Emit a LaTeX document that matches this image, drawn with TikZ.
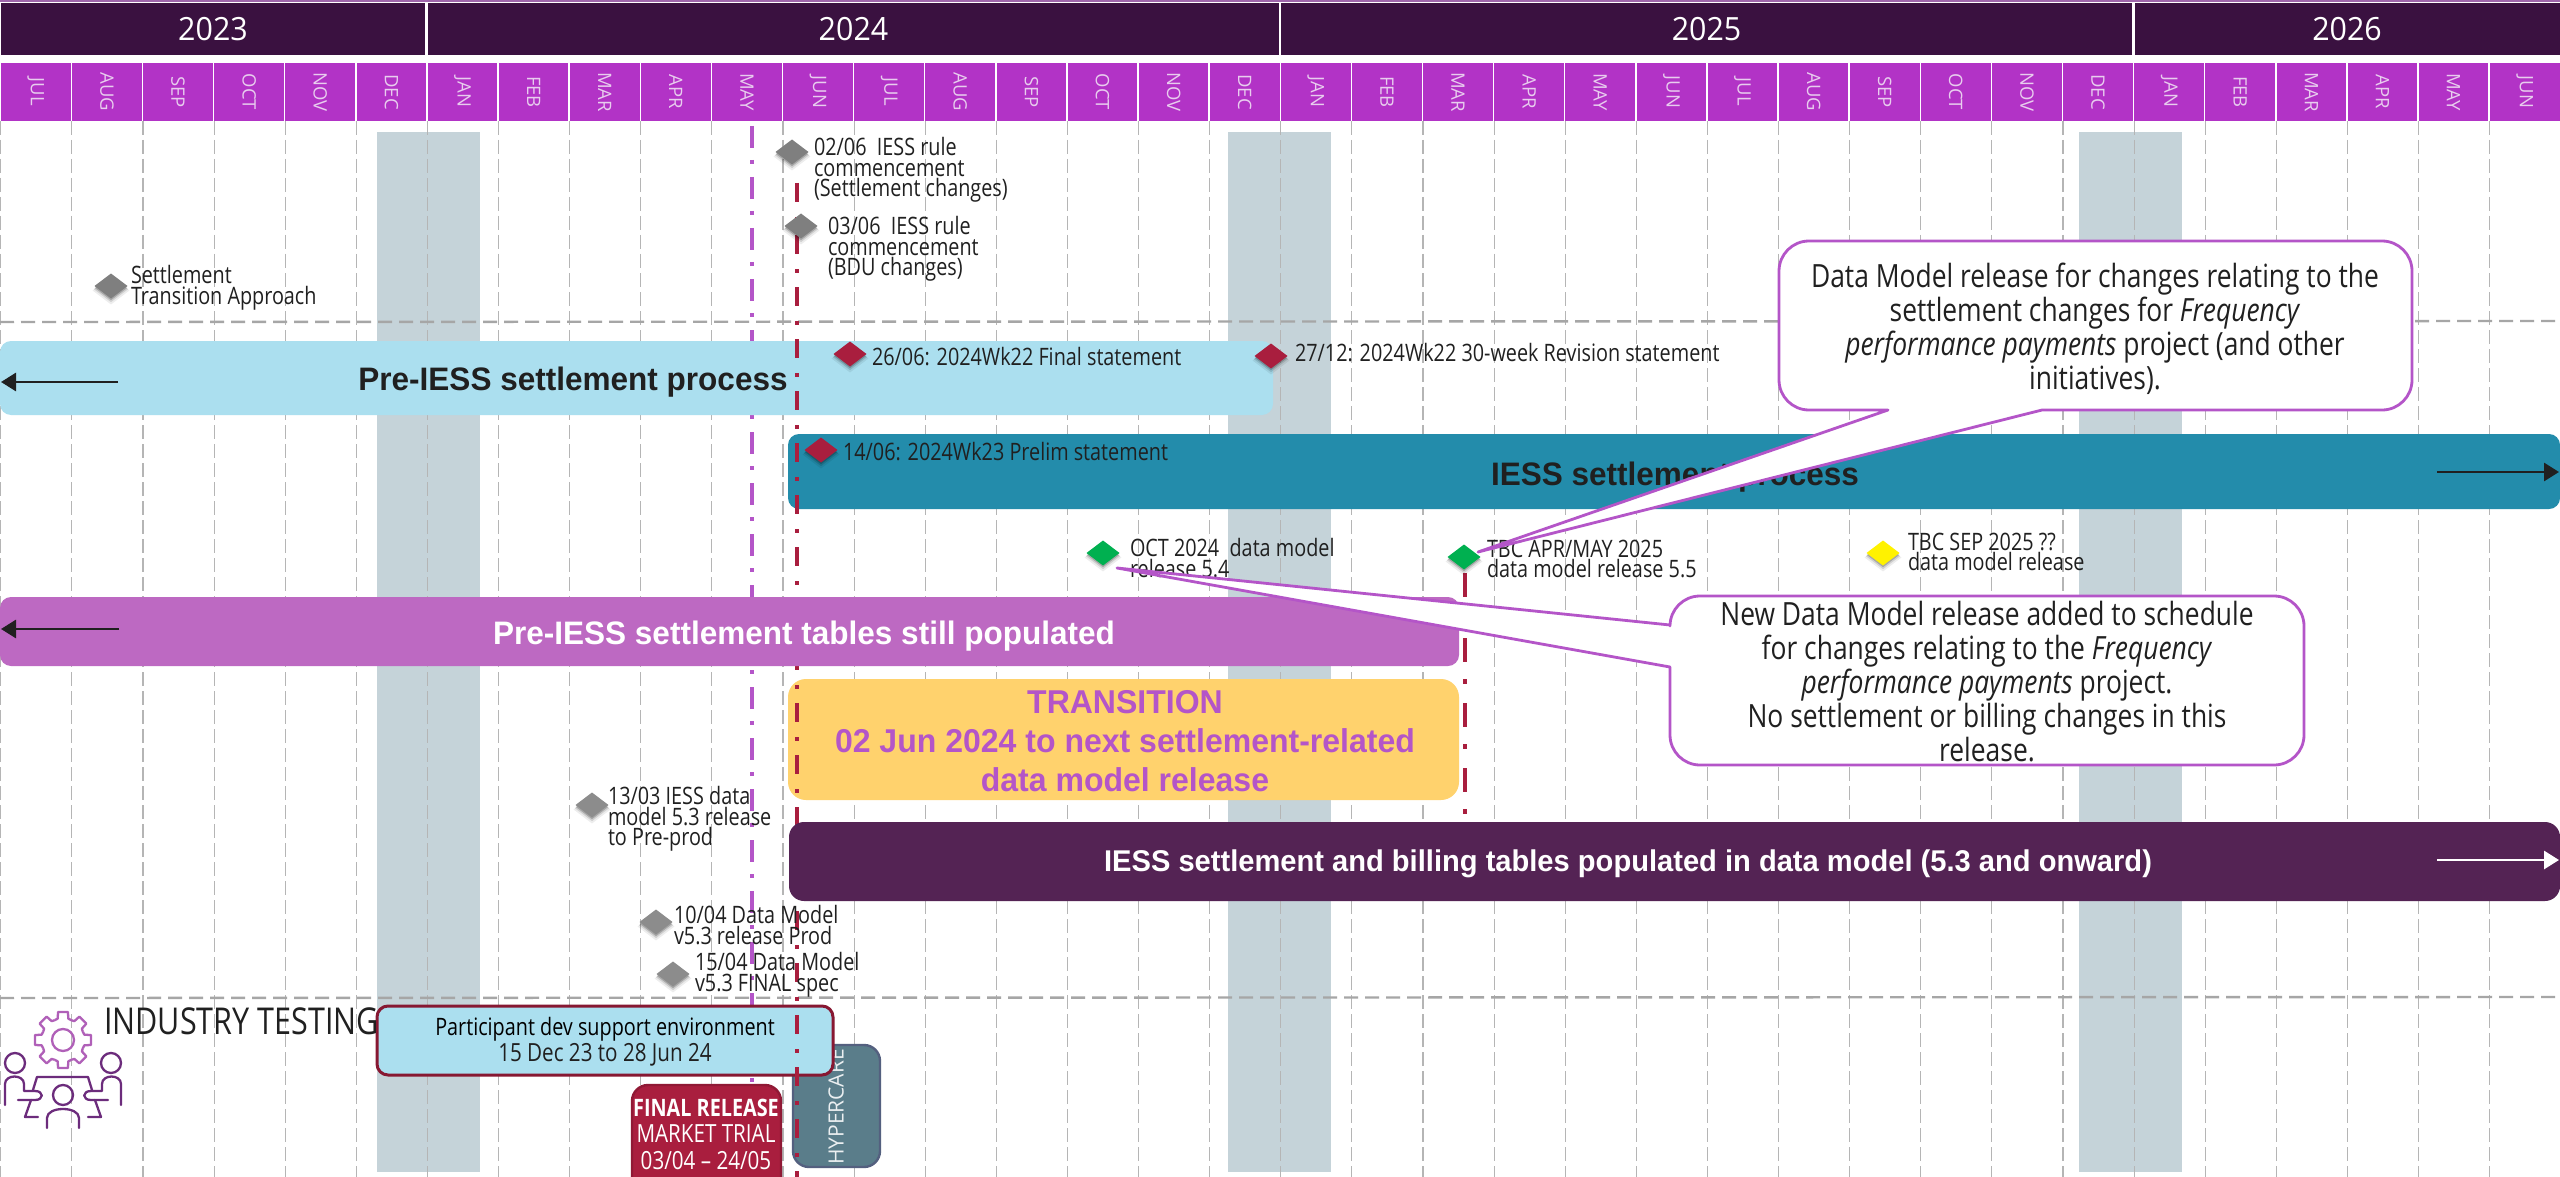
\documentclass[tikz,border=0pt]{standalone}
\usepackage{fontspec}
\usetikzlibrary{arrows.meta,shapes.geometric,shadows,calc}
\setmainfont{Open Sans}
\newfontfamily\seg[FakeStretch=0.825]{Open Sans}
\newfontfamily\segy[FakeStretch=0.95]{Open Sans}
\newfontfamily\segn{Open Sans}
\newfontfamily\arb[FakeStretch=0.97]{Liberation Sans}
\definecolor{yearc}{HTML}{3A1140}
\definecolor{monthc}{HTML}{B233C6}
\definecolor{monthtxt}{HTML}{E8CDEE}
\definecolor{colc}{HTML}{C5D3D9}
\definecolor{gridc}{HTML}{B5B5B5}
\definecolor{hlinec}{HTML}{A6A6A6}
\definecolor{purp}{HTML}{B455C8}
\definecolor{redc}{HTML}{A91E3E}
\definecolor{lblue}{HTML}{ABDFEF}
\definecolor{teal}{HTML}{238CAB}
\definecolor{mauve}{HTML}{BD69C2}
\definecolor{amber}{HTML}{FFD26D}
\definecolor{plum}{HTML}{542354}
\definecolor{txt}{HTML}{202020}
\definecolor{hyper}{HTML}{5A7D8A}
\definecolor{hyperb}{HTML}{54607F}
\definecolor{grayd}{HTML}{7F7F7F}
\definecolor{greend}{HTML}{00B050}
\definecolor{gearc}{HTML}{B060B8}
\definecolor{peoplec}{HTML}{6C2C7C}
\tikzset{
  px/.style={inner sep=0pt,outer sep=0pt},
  yearbox/.style={px,fill=yearc,text=white,minimum height=52pt,font=\segy\fontsize{32}{32}\selectfont},
  monthbox/.style={px,fill=monthc,minimum width=69.6pt,minimum height=58pt},
  monthlab/.style={px,rotate=-90,text=monthtxt,font=\segn\fontsize{18.5}{18.5}\selectfont},
  col/.style={px,fill=colc,anchor=north west,minimum width=103pt,minimum height=1040pt},
  gridl/.style={gridc,line width=1.1pt,dash pattern=on 14pt off 5pt},
  hl/.style={hlinec,line width=2.4pt,dash pattern=on 14pt off 7pt},
  purpl/.style={purp,line width=4.2pt,dash pattern=on 22pt off 12pt on 4pt off 13pt},
  redl/.style={redc,line width=4.2pt,dash pattern=on 19pt off 15pt on 4pt off 14pt},
  redlb/.style={redc,line width=4.2pt,dash pattern=on 24pt off 17pt on 5pt off 19pt},
  barbox/.style={px,anchor=north west,rounded corners=11pt},
  bartxt/.style={px,font=\arb\bfseries\fontsize{32.5}{32.5}\selectfont},
  darrow/.style={line width=2.8pt,-{Triangle[length=15pt,width=18pt]}},
  ms/.style={px,diamond,aspect=1.3,minimum width=33pt,minimum height=25pt,
    general shadow={shadow yshift=-4pt,shadow scale=1.12,fill=black,opacity=.07},
    general shadow={shadow yshift=-3pt,shadow scale=1.04,fill=black,opacity=.12},
    general shadow={shadow yshift=-2pt,shadow scale=.98,fill=black,opacity=.2}},
  lab/.style={px,anchor=west,align=left,text=txt,font=\seg\fontsize{24}{20.7}\selectfont},
  callout/.style={fill=white,draw=purp,line width=2.8pt,line join=round},
  calltxt/.style={px,align=center,text=txt,font=\seg\fontsize{32}{34}\selectfont},
  icong/.style={gearc,line width=2.3pt,line join=round},
  iconp/.style={peoplec,line width=2.3pt,line join=round,line cap=round},
}
\begin{document}
\begin{tikzpicture}[x=1pt,y=-1pt]
\useasboundingbox (0,0) rectangle (2560,1177);
\clip (0,0) rectangle (2560,1177);
\fill[white] (0,0) rectangle (2560,1177);
% grey columns
\node[col] (colA) at (377,132) {};
\node[col] (colB) at (1228,132) {};
\node[col] (colC) at (2079,132) {};
% grid
\foreach \i in {0,...,36}{
  \coordinate (gt\i) at ({\i*71.11+0.8},121);
  \coordinate (gb\i) at ({\i*71.11+0.8},1177);
  \draw[gridl] (gt\i) -- (gb\i);
}
% horizontal separators
\coordinate (hlA) at (0,322); \coordinate (hlB) at (2560,321);
\coordinate (hlC) at (0,998); \coordinate (hlD) at (2560,997);
\draw[hl] (hlA) -- (hlB);
\draw[hl] (hlC) -- (hlD);
% header
\fill[purp!60!gray] (0,0) rectangle (2560,2);
\node[yearbox,minimum width=424pt] (y23) at (213,29) {2023};
\node[yearbox,minimum width=851pt] (y24) at (853.5,29) {2024};
\node[yearbox,minimum width=851pt] (y25) at (1706.5,29) {2025};
\node[yearbox,minimum width=425pt] (y26) at (2347,29) {2026};
\foreach \i/\m in {0/JUL,1/AUG,2/SEP,3/OCT,4/NOV,5/DEC,6/JAN,7/FEB,8/MAR,9/APR,10/MAY,11/JUN,12/JUL,13/AUG,14/SEP,15/OCT,16/NOV,17/DEC,18/JAN,19/FEB,20/MAR,21/APR,22/MAY,23/JUN,24/JUL,25/AUG,26/SEP,27/OCT,28/NOV,29/DEC,30/JAN,31/FEB,32/MAR,33/APR,34/MAY,35/JUN}{
  \node[monthbox] (mb\i) at ({(\i+0.5)*71.11+0.3},92) {};
  \node[monthlab] (ml\i) at (mb\i) {\m};
}
% purple dash-dot
\coordinate (pt) at (752,126); \coordinate (pb) at (752,1177);
\draw[purpl] (pt) -- (pb);
% bars behind red line
\node[barbox,fill=lblue,minimum width=1273pt,minimum height=74pt] (preA) at (0,341) {};
\node[barbox,fill=teal,minimum width=1772pt,minimum height=75pt] (iess) at (788,434) {};
\node[barbox,fill=amber,minimum width=671pt,minimum height=121pt,rounded corners=18pt] (trans) at (788,679) {};
\node[barbox,fill=hyper,draw=hyperb,line width=2.4pt,minimum width=87pt,minimum height=122pt,rounded corners=16pt] (hyp) at (793,1045) {};
\node[px,rotate=90,text=white!88!hyper,font=\segn\fontsize{21}{21}\selectfont] (hyptxt) at (836,1107) {HYPERCARE};
\node[barbox,fill=redc,draw=redc!85!black,line width=2.4pt,minimum width=149pt,minimum height=115pt,rounded corners=16pt] (finalb) at (632,1085) {};
\node[barbox,fill=lblue,draw=redc!80!black,line width=3pt,minimum width=456pt,minimum height=69pt] (dev) at (377,1006) {};
% red lines
\coordinate (rt) at (797,183); \coordinate (rb) at (797,1177);
\draw[redl] (rt) -- (rb);
\coordinate (rct) at (1465,573); \coordinate (rcb) at (1465,820);
\draw[redlb] (rct) -- (rcb);
% bars above red line
\node[barbox,fill=mauve,minimum width=1459pt,minimum height=69pt] (preB) at (0,597) {};
\node[barbox,fill=plum,minimum width=1771pt,minimum height=79pt,rounded corners=15pt] (bill) at (789,822) {};
% bar texts
\node[bartxt,text=txt] (preAt) at (573,382) {Pre-IESS settlement process};
\node[bartxt,text=txt] (iesst) at (1675,477) {IESS settlement process};
\node[bartxt,text=white] (preBt) at (804,636) {Pre-IESS settlement tables still populated};
\node[bartxt,text=white,font=\arb\bfseries\fontsize{30}{30}\selectfont] (billt) at (1628,864) {IESS settlement and billing tables populated in data model (5.3 and onward)};
\node[bartxt,text=purp,align=center,font=\arb\bfseries\fontsize{33}{39}\selectfont] (transt) at (1125,741) {TRANSITION\\02 Jun 2024 to next settlement-related\\data model release};
% bar arrows
\coordinate (a1s) at (118,382); \coordinate (a1e) at (1,382);
\draw[darrow,txt] (a1s) -- (a1e);
\coordinate (a2s) at (2437,472); \coordinate (a2e) at (2559,472);
\draw[darrow,txt] (a2s) -- (a2e);
\coordinate (a3s) at (119,629); \coordinate (a3e) at (1,629);
\draw[darrow,txt] (a3s) -- (a3e);
\coordinate (a4s) at (2437,860); \coordinate (a4e) at (2559,860);
\draw[darrow,white] (a4s) -- (a4e);
% dev / final texts
\node[px,align=center,text=black,font=\seg\fontsize{24}{26}\selectfont] (devt) at (605,1042) {Participant dev support environment\\{\color{txt}\fontsize{25}{26}\selectfont 15 Dec 23 to 28 Jun 24}};
\node[px,align=center,text=white,font=\seg\fontsize{25}{26.5}\selectfont] (finalt) at (706,1134) {{\fontsize{24}{26.5}\selectfont\textbf{FINAL RELEASE}}\\MARKET TRIAL\\03/04 – 24/05};
% milestones
\node[ms,fill=grayd] (m1) at (111,286) {};
\node[lab] (t1) at (131,288) {Settlement\\Transition Approach};
\node[ms,fill=grayd] (m2) at (792,152) {};
\node[lab] (t2) at (814,170) {02/06\ \ IESS rule\\commencement\\(Settlement changes)};
\node[ms,fill=grayd] (m3) at (801,226) {};
\node[lab] (t3) at (828,249) {03/06\ \ IESS rule\\commencement\\(BDU changes)};
\node[ms,fill=redc] (m4) at (850,354) {};
\node[lab] (t4) at (872,357) {26/06: 2024Wk22 Final statement};
\node[ms,fill=redc] (m5) at (1271,356) {};
\node[lab] (t5) at (1295,353) {27/12: 2024Wk22 30-week Revision statement};
\node[ms,fill=redc] (m6) at (821,450) {};
\node[lab] (t6) at (843,452) {14/06: 2024Wk23 Prelim statement};
\node[ms,fill=greend] (m7) at (1103,553) {};
\node[lab] (t7) at (1130,558) {OCT 2024\ \ data model\\release 5.4};
\node[ms,fill=greend] (m8) at (1464,557) {};
\node[lab] (t8) at (1487,559) {TBC APR/MAY 2025\\data model release 5.5};
\node[ms,fill=yellow] (m9) at (1883,553) {};
\node[lab] (t9) at (1908,552) {TBC SEP 2025 ??\\data model release};
\node[ms,fill=grayd!90] (m10) at (592,805) {};
\node[lab] (t10) at (608,819) {13/03 IESS data\\model 5.3 release\\to Pre-prod};
\node[ms,fill=grayd!90] (m11) at (656,922) {};
\node[lab] (t11) at (674,925) {10/04 Data Model\\v5.3 release Prod};
\node[ms,fill=grayd!90] (m12) at (673,974) {};
\node[lab] (t12) at (695,975) {15/04 Data Model\\v5.3 FINAL spec};
% industry testing
\node[px,anchor=west,text=txt,font=\seg\fontsize{37}{37}\selectfont] (ind) at (104,1021) {INDUSTRY TESTING};
% icon
\begin{scope}[shift={(63,1040)}]
  \draw[icong] (0,0) circle (11);
  \foreach \a in {0,45,...,315}{
    \draw[icong] (\a-22.5:21.5) -- (\a-14:22) -- (\a-10:28.5) -- (\a+10:28.5) -- (\a+14:22) -- (\a+22.5:21.5);
  }
\end{scope}
\draw[iconp] (15,1063) circle (10);
\draw[iconp] (111,1063) circle (10);
\draw[iconp] (63,1095) circle (10);
\draw[iconp] (5,1105) -- (5,1084) .. controls (5,1074) and (24,1074) .. (24,1084) -- (24,1091) -- (35,1091) .. controls (44,1091) and (44,1100) .. (35,1100) -- (18,1100);
\draw[iconp] (121,1105) -- (121,1084) .. controls (121,1074) and (102,1074) .. (102,1084) -- (102,1091) -- (91,1091) .. controls (82,1091) and (82,1100) .. (91,1100) -- (108,1100);
\draw[iconp] (33,1090) -- (37,1077) -- (88,1077) -- (92,1090);
\draw[iconp] (31,1100) -- (25,1117) -- (38,1117);
\draw[iconp] (95,1100) -- (101,1117) -- (88,1117);
\draw[iconp] (47,1128) -- (47,1118) .. controls (47,1106) and (79,1106) .. (79,1118) -- (79,1128);
% callouts
\draw[callout] (1478,552) -- (1888,410) [rounded corners=30pt] -- (1779,410) -- (1779,241) -- (2412,241) -- (2412,410) [sharp corners] -- (2042,410) -- cycle;
\node[calltxt] (c1) at (2095,329) {Data Model release for changes relating to the\\settlement changes for \textit{Frequency}\\\textit{performance payments} project (and other\\initiatives).};
\draw[callout] (1117,568) -- (1670,625) [rounded corners=30pt] -- (1670,596) -- (2304,596) -- (2304,765) -- (1670,765) [sharp corners] -- (1670,667) -- cycle;
\node[calltxt] (c2) at (1987,682) {New Data Model release added to schedule\\for changes relating to the \textit{Frequency}\\\textit{performance payments} project.\\No settlement or billing changes in this\\release.};
\end{tikzpicture}
\end{document}
